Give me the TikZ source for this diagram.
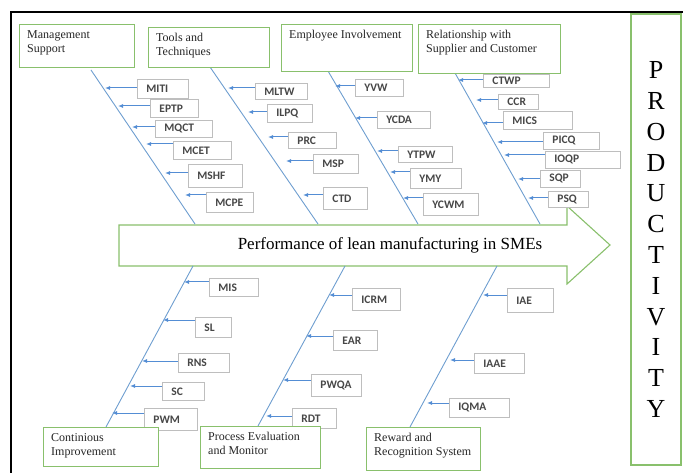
\documentclass[tikz,border=0pt]{standalone}
\usepackage{fontspec}
\setmainfont{Liberation Serif}
\newfontfamily\lblfont{Carlito}
\usetikzlibrary{arrows.meta}
\definecolor{boxgreen}{RGB}{137,192,108}
\definecolor{arrblue}{RGB}{84,141,212}
\definecolor{spineblue}{RGB}{110,158,208}
\definecolor{lblgray}{RGB}{190,190,190}
\tikzset{
 hbox/.style={draw=boxgreen, line width=1.1pt, fill=white, inner sep=0pt, anchor=north west},
 htext/.style={inner sep=0pt, anchor=north west, align=left, font=\fontsize{12}{14}\selectfont, text=black!85},
 cbox/.style={draw=lblgray, line width=0.8pt, fill=white, inner sep=0pt, anchor=north west, font=\lblfont\bfseries\fontsize{11.5}{12}\selectfont, text=black!72},
 carrow/.style={draw=arrblue, line width=1pt, -{Latex[length=5pt,width=4pt]}},
 spine/.style={draw=spineblue, line width=0.9pt},
}
\newcommand\headbox[6]{%
 \node[hbox, minimum width={#4pt-#2pt}, minimum height={#5pt-#3pt}] (#1) at (#2,#3) {};
 \node[htext] (#1text) at ([shift={(8,6)}]#1.north west) {#6};
}
\newcommand\cause[8]{%
 \node[cbox, minimum width={#4pt-#2pt}, minimum height={#5pt-#3pt}] (#1) at (#2,#3) {\makebox[\dimexpr#4pt-#2pt\relax][l]{\hspace{9pt}#6}};
 \coordinate (#1tip) at (#7,#8);
 \draw[carrow] (#1.west |- #1tip) -- (#1tip);
}
\begin{document}
\begin{tikzpicture}[x=1pt,y=-1pt]
\useasboundingbox (0,0) rectangle (683,473);
% frame
\draw[black, line width=2pt] (683,12) -- (11,12) -- (11,473);
% main arrow
\draw[boxgreen, line width=1.1pt, fill=white] (119,225) -- (567,225) -- (567,206) -- (610,245) -- (567,284) -- (567,266) -- (119,266) -- cycle;
\node[inner sep=0pt, font=\fontsize{17}{20}\selectfont] (perf) at (390,245) {Performance of lean manufacturing in SMEs};
% spines
\coordinate (s1a) at (91,70);   \coordinate (s1b) at (195,224);
\coordinate (s2a) at (210,67);  \coordinate (s2b) at (318,224);
\coordinate (s3a) at (328,71);  \coordinate (s3b) at (418,224);
\coordinate (s4a) at (455,73);  \coordinate (s4b) at (540,224);
\coordinate (s5a) at (193,266); \coordinate (s5b) at (106,427);
\coordinate (s6a) at (345,266); \coordinate (s6b) at (258,426);
\coordinate (s7a) at (497,266); \coordinate (s7b) at (410,427);
\foreach \i in {1,...,7} {\draw[spine] (s\i a) -- (s\i b);}
% causes: management
\cause{miti}{137}{79}{188}{98}{MITI}{105}{88}
\cause{eptp}{150}{99}{198}{117}{EPTP}{118}{106}
\cause{mqct}{155}{120}{212}{137}{MQCT}{132}{127}
\cause{mcet}{173}{141}{231}{159}{MCET}{146}{144}
\cause{mshf}{188}{164}{242}{187}{MSHF}{165}{173}
\cause{mcpe}{206}{192}{253}{212}{MCPE}{185}{195}
% tools
\cause{mltw}{255}{83}{307}{99}{MLTW}{228}{88}
\cause{ilpq}{267}{104}{312}{122}{ILPQ}{248}{112}
\cause{prc}{288}{132}{336}{148}{PRC}{268}{137}
\cause{msp}{313}{154}{358}{173}{MSP}{286}{161}
\cause{ctd}{323}{187}{367}{209}{CTD}{303}{195}
% employee
\cause{yvw}{355}{79}{403}{96}{YVW}{335}{86}
\cause{ycda}{377}{111}{430}{128}{YCDA}{355}{118}
\cause{ytpw}{398}{146}{452}{162}{YTPW}{377}{151}
\cause{ymy}{410}{168}{461}{188}{YMY}{390}{172}
\cause{ycwm}{423}{193}{478}{215}{YCWM}{403}{198}
% relationship
\cause{ctwp}{483}{74}{549}{87}{CTWP}{458}{80}
\cause{ccr}{498}{94}{538}{109}{CCR}{476}{100}
\cause{mics}{503}{111}{572}{129}{MICS}{482}{123}
\cause{picq}{543}{132}{599}{149}{PICQ}{497}{142}
\cause{ioqp}{545}{151}{620}{168}{IOQP}{504}{155}
\cause{sqp}{540}{170}{580}{187}{SQP}{518}{179}
\cause{psq}{548}{191}{588}{207}{PSQ}{528}{198}
% continious
\cause{mis}{209}{278}{258}{296}{MIS}{184}{282}
\cause{sl}{195}{317}{231}{337}{SL}{163}{320}
\cause{rns}{178}{353}{229}{372}{RNS}{142}{361}
\cause{sc}{162}{382}{204}{400}{SC}{130}{386}
\cause{pwm}{144}{408}{197}{430}{PWM}{112}{413}
% process
\cause{icrm}{352}{288}{400}{310}{ICRM}{329}{295}
\cause{ear}{333}{330}{377}{350}{EAR}{306}{336}
\cause{pwqa}{311}{374}{361}{396}{PWQA}{283}{380}
\cause{rdt}{292}{408}{336}{428}{RDT}{266}{416}
% reward
\cause{iae}{507}{288}{553}{312}{IAE}{483}{295}
\cause{iaae}{474}{353}{524}{373}{IAAE}{450}{360}
\cause{iqma}{449}{398}{509}{417}{IQMA}{427}{403}
% heading boxes
\headbox{mgmt}{19}{24}{134}{67}{Management\\Support}
\headbox{tools}{148}{27}{269}{67}{Tools and\\Techniques}
\headbox{empl}{281}{24}{412}{71}{Employee Involvement}
\headbox{rel}{418}{24}{560}{73}{Relationship with\\Supplier and Customer}
\headbox{cont}{43}{427}{158}{466}{Continious\\Improvement}
\headbox{proc}{200}{426}{320}{468}{Process Evaluation\\and Monitor}
\headbox{rew}{366}{427}{480}{470}{Reward and\\Recognition System}
% productivity
\node[draw=boxgreen, line width=1.1pt, minimum width=50pt, minimum height=451pt, inner sep=0pt, align=center, font=\fontsize{26}{30.8}\selectfont] (prod) at (656,239.5) {P\\R\\O\\D\\U\\C\\T\\I\\V\\I\\T\\Y};
\end{tikzpicture}
\end{document}
